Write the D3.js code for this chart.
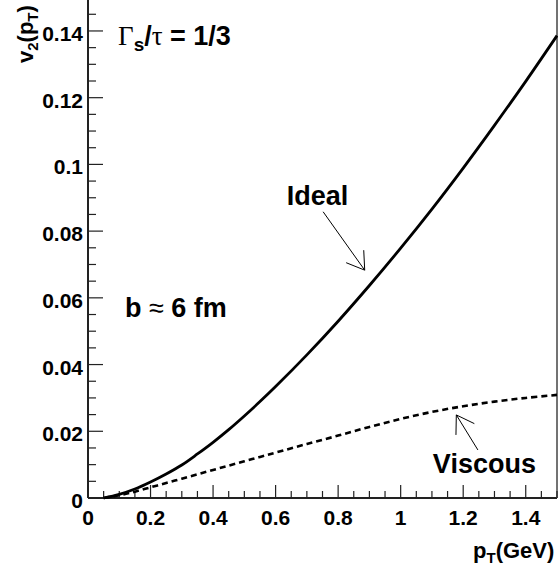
<!DOCTYPE html>
<html><head><meta charset="utf-8">
<script src="https://cdn.jsdelivr.net/npm/d3@7"></script>
<style>html,body{margin:0;padding:0;background:#fff;}svg{display:block;}</style>
</head><body>
<svg id="chart" width="559" height="567"></svg>
<script>
const pT      = [0.05, 0.10, 0.15, 0.20, 0.25, 0.30, 0.35, 0.40, 0.45, 0.50, 0.55, 0.60, 0.70, 0.80, 0.90, 1.00, 1.10, 1.20, 1.30, 1.40, 1.50];
const ideal   = [0, 0.0011, 0.0027, 0.0048, 0.0072, 0.0099, 0.0132, 0.0167, 0.0205, 0.0246, 0.0289, 0.0334, 0.0429, 0.0530, 0.0637, 0.0749, 0.0866, 0.0989, 0.1117, 0.1249, 0.1386];
const viscous = [0, 0.0008, 0.0019, 0.0032, 0.0045, 0.0058, 0.0071, 0.0084, 0.0097, 0.0110, 0.0123, 0.0136, 0.0162, 0.0187, 0.0213, 0.0237, 0.0258, 0.0275, 0.0289, 0.0300, 0.0309];
const xTickLabels = ["0", "0.2", "0.4", "0.6", "0.8", "1", "1.2", "1.4"];
const yTickLabels = ["0", "0.02", "0.04", "0.06", "0.08", "0.1", "0.12", "0.14"];

const svg = d3.select("#chart");
const font = "'Liberation Sans', Arial, Helvetica, sans-serif";
const serif = "'Liberation Serif', 'Times New Roman', serif";

const x = d3.scaleLinear().domain([0, 1.5]).range([88, 557]);
const y = d3.scaleLinear().domain([0, 0.15]).range([498, -2.4]);

// frame
const g = svg.append("g");
g.append("line").attr("x1", x(0)).attr("x2", x(0)).attr("y1", y(0)).attr("y2", y(0.15))
  .attr("stroke", "#222").attr("stroke-width", 2);
g.append("line").attr("x1", x(0)).attr("x2", x(1.5)).attr("y1", y(0)).attr("y2", y(0))
  .attr("stroke", "#222").attr("stroke-width", 2);
g.append("line").attr("x1", x(1.5)).attr("x2", x(1.5)).attr("y1", y(0)).attr("y2", y(0.15))
  .attr("stroke", "#444").attr("stroke-width", 1.5);

// x ticks
const xMinor = d3.range(0, 1.5001, 0.05);
g.selectAll(".xt").data(xMinor).join("line")
  .attr("x1", d => x(d)).attr("x2", d => x(d))
  .attr("y1", y(0)).attr("y2", (d, i) => y(0) - (i % 4 === 0 ? 13 : 7))
  .attr("stroke", "#222").attr("stroke-width", 1.2);
const xMajor = xTickLabels.map(Number);
g.selectAll(".xl").data(xMajor).join("text")
  .attr("x", d => x(d)).attr("y", y(0) + 27)
  .attr("text-anchor", "middle").attr("font-family", font).attr("font-weight", "bold")
  .attr("font-size", 21).text((d, i) => xTickLabels[i]);

// y ticks
const yMinor = d3.range(0, 0.1451, 0.005);
g.selectAll(".yt").data(yMinor).join("line")
  .attr("y1", d => y(d)).attr("y2", d => y(d))
  .attr("x1", x(0)).attr("x2", (d, i) => x(0) + (i % 4 === 0 ? 15 : 8))
  .attr("stroke", "#222").attr("stroke-width", 1.2);
const yMajor = yTickLabels.map(Number);
g.selectAll(".yl").data(yMajor).join("text")
  .attr("x", x(0) - 5).attr("y", d => y(d) + 10)
  .attr("text-anchor", "end").attr("font-family", font).attr("font-weight", "bold")
  .attr("font-size", 21).text((d, i) => yTickLabels[i]);

// curves
const line = d3.line().x(d => x(d[0])).y(d => y(d[1])).curve(d3.curveCatmullRom.alpha(0.5));
svg.append("path").datum(pT.map((p, i) => [p, ideal[i]])).attr("d", line)
  .attr("fill", "none").attr("stroke", "#000").attr("stroke-width", 2.8);
svg.append("path").datum(pT.map((p, i) => [p, viscous[i]])).attr("d", line)
  .attr("fill", "none").attr("stroke", "#000").attr("stroke-width", 2.6)
  .attr("stroke-dasharray", "6,4");

// axis titles
const xt = svg.append("text").attr("x", 473).attr("y", 558)
  .attr("font-family", font).attr("font-weight", "bold").attr("font-size", 22);
xt.append("tspan").text("p");
xt.append("tspan").attr("dy", 5).attr("font-size", 15).text("T");
xt.append("tspan").attr("dy", -5).text("(GeV)");

const yt = svg.append("text").attr("transform", "translate(33,63) rotate(-90)")
  .attr("font-family", font).attr("font-weight", "bold").attr("font-size", 22);
yt.append("tspan").text("v");
yt.append("tspan").attr("dy", 5).attr("font-size", 15).text("2");
yt.append("tspan").attr("dy", -5).text("(p");
yt.append("tspan").attr("dy", 5).attr("font-size", 15).text("T");
yt.append("tspan").attr("dy", -5).text(")");

// annotations
const gam = svg.append("text").attr("x", x(0.096)).attr("y", y(0.1358))
  .attr("font-family", font).attr("font-weight", "bold").attr("font-size", 27);
gam.append("tspan").attr("font-family", serif).attr("font-weight", "normal").text("Γ");
gam.append("tspan").attr("dy", 6).attr("font-size", 19).text("s");
gam.append("tspan").attr("dy", -6).text("/");
gam.append("tspan").attr("font-family", serif).attr("font-weight", "normal").text("τ");
gam.append("tspan").text(" = 1/3");

svg.append("text").attr("x", x(0.636)).attr("y", y(0.0878))
  .attr("font-family", font).attr("font-weight", "bold").attr("font-size", 27).text("Ideal");

const bt = svg.append("text").attr("x", x(0.118)).attr("y", y(0.0543))
  .attr("font-family", font).attr("font-weight", "bold").attr("font-size", 27);
bt.append("tspan").text("b ");
bt.append("tspan").attr("font-weight", "normal").text("≈");
bt.append("tspan").text(" 6 fm");

svg.append("text").attr("x", x(1.103)).attr("y", y(0.0075))
  .attr("font-family", font).attr("font-weight", "bold").attr("font-size", 27).text("Viscous");

// arrows (data coords)
const arrows = [
  {from: [0.752, 0.0858], to: [0.885, 0.0683]},
  {from: [1.247, 0.0144], to: [1.178, 0.0249]}
];
arrows.forEach(a => {
  const x1 = x(a.from[0]), y1 = y(a.from[1]), x2 = x(a.to[0]), y2 = y(a.to[1]);
  svg.append("line").attr("x1", x1).attr("y1", y1).attr("x2", x2).attr("y2", y2)
    .attr("stroke", "#000").attr("stroke-width", 1);
  const ang = Math.atan2(y1 - y2, x1 - x2);
  const L = 20, h = 0.57;
  [ang + h, ang - h].forEach(t => {
    svg.append("line").attr("x1", x2).attr("y1", y2)
      .attr("x2", x2 + L * Math.cos(t)).attr("y2", y2 + L * Math.sin(t))
      .attr("stroke", "#000").attr("stroke-width", 1);
  });
});
</script>
</body></html>
